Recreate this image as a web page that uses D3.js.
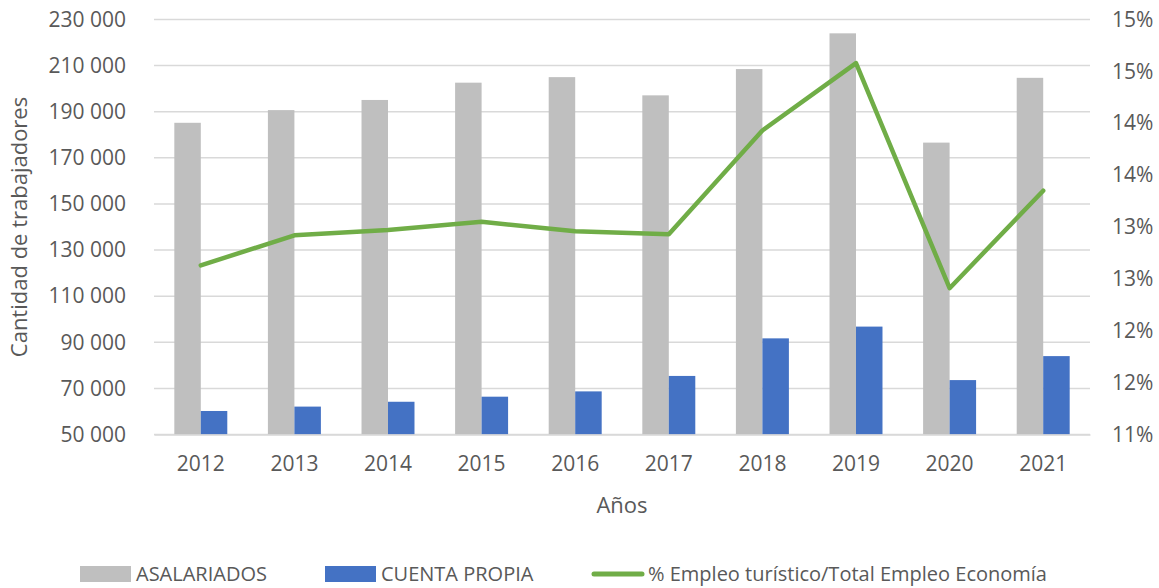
<!DOCTYPE html>
<html>
<head>
<meta charset="utf-8">
<script src="https://cdn.jsdelivr.net/npm/d3@7"></script>
<style>
  body { margin: 0; background: #fff; }
  text { font-family: "Open Sans", sans-serif; fill: #595959; }
</style>
</head>
<body>
<div id="chart"></div>
<script>
const years = ["2012", "2013", "2014", "2015", "2016", "2017", "2018", "2019", "2020", "2021"];
const asalariados = [185200, 190700, 195100, 202600, 205000, 197100, 208500, 224000, 176600, 204700];
const cuentaPropia = [60200, 62100, 64200, 66400, 68700, 75400, 91700, 96800, 73600, 84000];
const pctEmpleo = [12.63, 12.92, 12.97, 13.05, 12.96, 12.93, 13.93, 14.58, 12.41, 13.35];
const leftTicks = [50000, 70000, 90000, 110000, 130000, 150000, 170000, 190000, 210000, 230000];
const rightTicks = [11, 11.5, 12, 12.5, 13, 13.5, 14, 14.5, 15];

const width = 1159;
const height = 588;
const margin = { left: 154, right: 69, top: 19.5, bottom: 153.5 };
const plotW = width - margin.left - margin.right;
const plotH = height - margin.top - margin.bottom;

const svg = d3.select("#chart")
    .append("svg")
    .attr("width", width)
    .attr("height", height);

const g = svg.append("g")
    .attr("transform", `translate(${margin.left}, ${margin.top})`);

const x = d3.scaleBand()
    .domain(years)
    .range([0, plotW])
    .paddingInner(0.434)
    .paddingOuter(0.217);

const xSub = d3.scaleBand()
    .domain(["a", "c"])
    .range([0, x.bandwidth()]);

const yLeft = d3.scaleLinear()
    .domain([50000, 230000])
    .range([plotH, 0]);

const yRight = d3.scaleLinear()
    .domain([11, 15])
    .range([plotH, 0]);

// gridlines
g.append("g")
    .selectAll("line")
    .data(leftTicks)
    .join("line")
    .attr("x1", 0)
    .attr("x2", plotW)
    .attr("y1", d => yLeft(d))
    .attr("y2", d => yLeft(d))
    .attr("stroke", "#d9d9d9")
    .attr("stroke-width", 1.5);

// bars
const groups = g.append("g")
    .selectAll("g")
    .data(years)
    .join("g")
    .attr("transform", d => `translate(${x(d)}, 0)`);

groups.append("rect")
    .attr("x", xSub("a"))
    .attr("width", xSub.bandwidth())
    .attr("y", (d, i) => yLeft(asalariados[i]))
    .attr("height", (d, i) => plotH - yLeft(asalariados[i]))
    .attr("fill", "#bfbfbf");

groups.append("rect")
    .attr("x", xSub("c"))
    .attr("width", xSub.bandwidth())
    .attr("y", (d, i) => yLeft(cuentaPropia[i]))
    .attr("height", (d, i) => plotH - yLeft(cuentaPropia[i]))
    .attr("fill", "#4472c4");

// line on secondary axis
const line = d3.line()
    .x((d, i) => x(years[i]) + x.bandwidth() / 2)
    .y(d => yRight(d));

g.append("path")
    .datum(pctEmpleo)
    .attr("fill", "none")
    .attr("stroke", "#70ad47")
    .attr("stroke-width", 4.5)
    .attr("stroke-linejoin", "round")
    .attr("stroke-linecap", "round")
    .attr("d", line);

// axes
const fmtLeft = d => d3.format(",")(d).replace(/,/g, " ");
const leftAxis = g.append("g")
    .call(d3.axisLeft(yLeft).tickValues(leftTicks).tickFormat(fmtLeft).tickSize(0).tickPadding(28));
leftAxis.select(".domain").remove();
leftAxis.selectAll("text").attr("font-size", "21px").attr("fill", "#595959").style("font-family", "'Open Sans', sans-serif");

const rightAxis = g.append("g")
    .attr("transform", `translate(${plotW}, 0)`)
    .call(d3.axisRight(yRight).tickValues(rightTicks).tickFormat(d => Math.round(d) + "%").tickSize(0).tickPadding(22));
rightAxis.select(".domain").remove();
rightAxis.selectAll("text").attr("font-size", "21px").attr("fill", "#595959").style("font-family", "'Open Sans', sans-serif");

const bottomAxis = g.append("g")
    .attr("transform", `translate(0, ${plotH})`)
    .call(d3.axisBottom(x).tickSize(0).tickPadding(22));
bottomAxis.select(".domain")
    .attr("stroke", "#d9d9d9")
    .attr("stroke-width", 1.5);
bottomAxis.selectAll("text").attr("font-size", "21px").attr("fill", "#595959").style("font-family", "'Open Sans', sans-serif");

// axis titles
svg.append("text")
    .attr("transform", `translate(27, ${margin.top + plotH / 2}) rotate(-90)`)
    .attr("text-anchor", "middle")
    .attr("font-size", "22px")
    .text("Cantidad de trabajadores");

svg.append("text")
    .attr("x", margin.left + plotW / 2)
    .attr("y", 513)
    .attr("text-anchor", "middle")
    .attr("font-size", "22px")
    .text("Años");

// legend
const legendItems = [
    { label: "ASALARIADOS", color: "#bfbfbf", type: "rect", x: 80 },
    { label: "CUENTA PROPIA", color: "#4472c4", type: "rect", x: 325 },
    { label: "% Empleo turístico/Total Empleo Economía", color: "#70ad47", type: "line", x: 592 }
];

const legend = svg.append("g");
legendItems.forEach(item => {
    if (item.type === "rect") {
        legend.append("rect")
            .attr("x", item.x)
            .attr("y", 566)
            .attr("width", 51)
            .attr("height", 16)
            .attr("fill", item.color);
    } else {
        legend.append("line")
            .attr("x1", item.x + 2)
            .attr("x2", item.x + 50)
            .attr("y1", 574)
            .attr("y2", 574)
            .attr("stroke", item.color)
            .attr("stroke-width", 5)
            .attr("stroke-linecap", "round");
    }
    legend.append("text")
        .attr("x", item.x + 56)
        .attr("y", 581)
        .attr("font-size", "20px")
        .text(item.label);
});
</script>
</body>
</html>
